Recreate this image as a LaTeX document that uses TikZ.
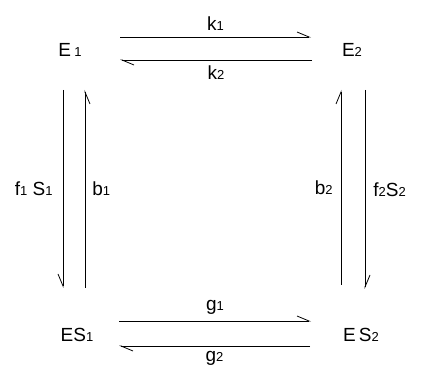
\documentclass[tikz,border=0pt]{standalone}
\usepackage{fontspec}
\setmainfont{Liberation Sans}
\usetikzlibrary{arrows.meta}

\newcommand{\idx}[1]{{\fontsize{13}{13}\selectfont #1}}

\begin{document}
\begin{tikzpicture}[x=1pt,y=-1pt,
  nodes={inner sep=0pt,font=\fontsize{19}{19}\selectfont},
  harpl/.style={draw,line width=0.8pt,-{Straight Barb[left,length=12pt,width=10pt]}},
  harpr/.style={draw,line width=0.8pt,-{Straight Barb[right,length=12pt,width=10pt]}}]
\useasboundingbox (0,0) rectangle (423,371);
% species
\node (E1)  at (70,50)   {E\,\idx{1}};
\node (E2)  at (352,50)  {E\idx{2}};
\node (ES1) at (77,335)  {ES\idx{1}};
\node (ES2) at (361,335) {E\,S\idx{2}};
% top pair
\draw[harpl] ([shift={(50,-13)}]E1.center) -- ([shift={(-41,-13)}]E2.center)
  node[midway,above=6pt] (k1) {k\idx{1}};
\draw[harpl] ([shift={(-40,10)}]E2.center) -- ([shift={(50,10)}]E1.center)
  node[midway,below=5pt] (k2) {k\idx{2}};
% left pair
\draw[harpr] ([shift={(-7,40)}]E1.center) -- ([shift={(-14,-47)}]ES1.center)
  node[midway,left=10pt] (f1) {f\idx{1} S\idx{1}};
\draw[harpr] ([shift={(8,-47)}]ES1.center) -- ([shift={(15,40)}]E1.center)
  node[midway,right=7pt] (b1) {b\idx{1}};
% right pair
\draw[harpl] ([shift={(-20,-50)}]ES2.center) -- ([shift={(-11,40)}]E2.center)
  node[midway,left=8pt] (b2) {b\idx{2}};
\draw[harpl] ([shift={(13,40)}]E2.center) -- ([shift={(4,-46)}]ES2.center)
  node[midway,right=8pt] (f2) {f\idx{2}S\idx{2}};
% bottom pair
\draw[harpl] ([shift={(42,-14)}]ES1.center) -- ([shift={(-50,-14)}]ES2.center)
  node[midway,above=6pt] (g1) {g\idx{1}};
\draw[harpl] ([shift={(-51,11)}]ES2.center) -- ([shift={(42,11)}]ES1.center)
  node[midway,below=5pt] (g2) {g\idx{2}};
\end{tikzpicture}
\end{document}
